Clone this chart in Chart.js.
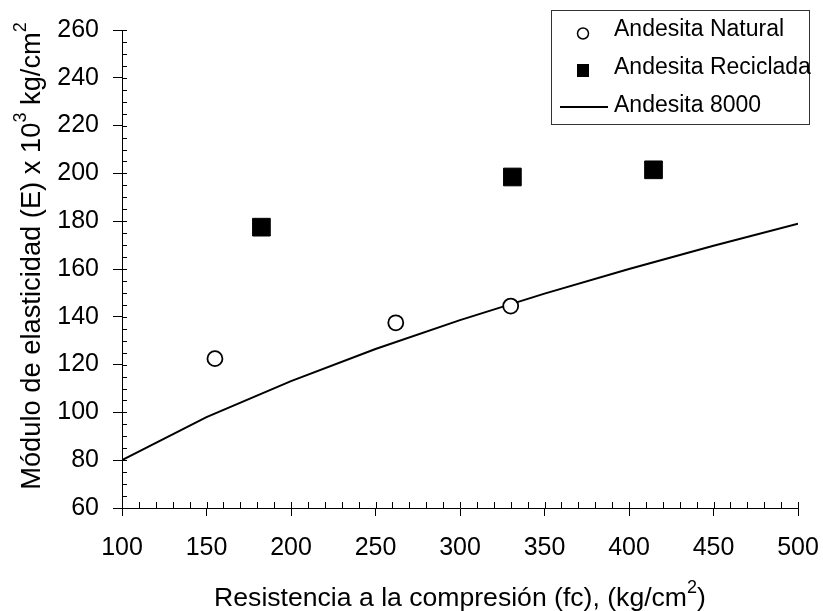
<!DOCTYPE html>
<html>
<head>
<meta charset="utf-8">
<script src="https://cdn.jsdelivr.net/npm/chart.js@4/dist/chart.umd.min.js"></script>
<style>
html,body{margin:0;padding:0;background:#fff;}
#wrap{width:823px;height:611px;}
</style>
</head>
<body>
<div id="wrap"><canvas id="c" width="823" height="611"></canvas></div>
<script>
// ---- data ----
const naturalX = [155, 262, 330];
const naturalY = [122.5, 137.5, 144.5];
const recicladaX = [182.5, 331, 414.5];
const recicladaY = [177.5, 198.5, 201.5];
const curveX = [100, 150, 200, 250, 300, 350, 400, 450, 500];
const curveY = [80, 98, 113.1, 126.5, 138.6, 149.7, 160, 169.7, 178.9];
const seriesLabels = ['Andesita Natural', 'Andesita Reciclada', 'Andesita 8000'];
// axis titles as [text, superscript] pieces
const xTitleParts = [['Resistencia a la compresión (fc), (kg/cm', false], ['2', true], [')', false]];
const yTitleParts = [['Módulo de elasticidad (E) x 10', false], ['3', true], [' kg/cm', false], ['2', true]];

const FONT = "'Liberation Sans', Arial, sans-serif";
const toPts = (xs, ys) => xs.map((x, i) => ({x, y: ys[i]}));

function drawRich(ctx, parts, size, cx, cy, rot) {
  const supSize = Math.round(size * 0.66);
  const rise = size * 0.5;
  ctx.save();
  ctx.translate(cx, cy);
  ctx.rotate(rot);
  ctx.fillStyle = '#000';
  ctx.textBaseline = 'alphabetic';
  ctx.textAlign = 'left';
  let total = 0;
  const widths = parts.map(([t, sup]) => {
    ctx.font = (sup ? supSize : size) + 'px ' + FONT;
    const w = ctx.measureText(t).width;
    total += w;
    return w;
  });
  let x = -total / 2;
  parts.forEach(([t, sup], i) => {
    ctx.font = (sup ? supSize : size) + 'px ' + FONT;
    ctx.fillText(t, x, sup ? -rise : 0);
    x += widths[i];
  });
  ctx.restore();
}

const axisTitles = {
  id: 'axisTitles',
  afterDraw(chart) {
    const a = chart.chartArea;
    const ctx = chart.ctx;
    drawRich(ctx, xTitleParts, 26.6, (a.left + a.right) / 2, 606, 0);
    drawRich(ctx, yTitleParts, 27.3, 39.5, (a.top + a.bottom) / 2 - 13, -Math.PI / 2);
  }
};

const minorTicks = {
  id: 'minorTicks',
  afterDraw(chart) {
    const ctx = chart.ctx, xs = chart.scales.x, ys = chart.scales.y;
    const a = chart.chartArea;
    ctx.save();
    ctx.strokeStyle = '#000';
    ctx.lineWidth = 1;
    ctx.beginPath();
    for (let v = xs.min; v <= xs.max; v += 10) {
      const px = Math.round(xs.getPixelForValue(v)) + 0.5;
      ctx.moveTo(px, a.bottom);
      ctx.lineTo(px, a.bottom - 6);
    }
    for (let v = ys.min; v <= ys.max; v += 5) {
      const py = Math.round(ys.getPixelForValue(v)) + 0.5;
      ctx.moveTo(a.left, py);
      ctx.lineTo(a.left + 5, py);
    }
    ctx.stroke();
    ctx.restore();
  }
};

const boxLegend = {
  id: 'boxLegend',
  afterDraw(chart) {
    const ctx = chart.ctx;
    const ds = chart.data.datasets;
    ctx.save();
    ctx.fillStyle = '#fff';
    ctx.fillRect(551.5, 10.5, 258, 114);
    ctx.strokeStyle = '#333';
    ctx.lineWidth = 1;
    ctx.strokeRect(551.5, 10.5, 258, 114);
    ctx.font = '23px ' + FONT;
    ctx.fillStyle = '#000';
    ctx.textBaseline = 'middle';
    ctx.textAlign = 'left';
    const rows = [30, 68, 106];
    ctx.beginPath();
    ctx.arc(583, 33.5, 5.5, 0, Math.PI * 2);
    ctx.lineWidth = 1.5;
    ctx.strokeStyle = '#000';
    ctx.stroke();
    ctx.fillRect(577, 64, 12, 13);
    ctx.beginPath();
    ctx.moveTo(560, 107);
    ctx.lineTo(608, 107);
    ctx.lineWidth = 2;
    ctx.stroke();
    ds.forEach((d, i) => ctx.fillText(d.label, 614, rows[i]));
    ctx.restore();
  }
};

new Chart(document.getElementById('c'), {
  type: 'scatter',
  data: {
    datasets: [
      {
        label: seriesLabels[0],
        data: toPts(naturalX, naturalY),
        pointStyle: 'circle',
        pointRadius: 7.5,
        pointBorderWidth: 1.8,
        borderColor: '#000',
        backgroundColor: '#fff',
        order: 1
      },
      {
        label: seriesLabels[1],
        data: toPts(recicladaX, recicladaY),
        pointStyle: 'rect',
        pointRadius: 12.5,
        pointBorderWidth: 1,
        borderColor: '#000',
        backgroundColor: '#000',
        order: 1
      },
      {
        label: seriesLabels[2],
        data: toPts(curveX, curveY),
        showLine: true,
        pointRadius: 0,
        borderColor: '#000',
        borderWidth: 2,
        backgroundColor: '#000',
        order: 2
      }
    ]
  },
  options: {
    responsive: false,
    animation: false,
    devicePixelRatio: 1,
    layout: { padding: { left: 0, right: 25, top: 30, bottom: 0 } },
    plugins: { legend: { display: false }, tooltip: { enabled: false } },
    scales: {
      x: {
        type: 'linear', min: 100, max: 500,
        afterFit(s) { s.height = 103; s.paddingLeft = 0; s.paddingRight = 0; },
        ticks: { stepSize: 50, color: '#000', font: { family: FONT, size: 25 }, padding: 17 },
        grid: { drawOnChartArea: false, drawTicks: true, tickLength: 8, color: '#000', tickWidth: 1 },
        border: { color: '#000', width: 1 },
        title: { display: false }
      },
      y: {
        type: 'linear', min: 60, max: 260,
        afterFit(s) { s.width = 122; s.paddingTop = 0; s.paddingBottom = 0; },
        ticks: { stepSize: 20, color: '#000', font: { family: FONT, size: 25 }, padding: 14 },
        grid: { drawOnChartArea: false, drawTicks: true, tickLength: 9, color: '#000', tickWidth: 1 },
        border: { color: '#000', width: 1 },
        title: { display: false }
      }
    }
  },
  plugins: [minorTicks, boxLegend, axisTitles]
});
</script>
</body>
</html>
